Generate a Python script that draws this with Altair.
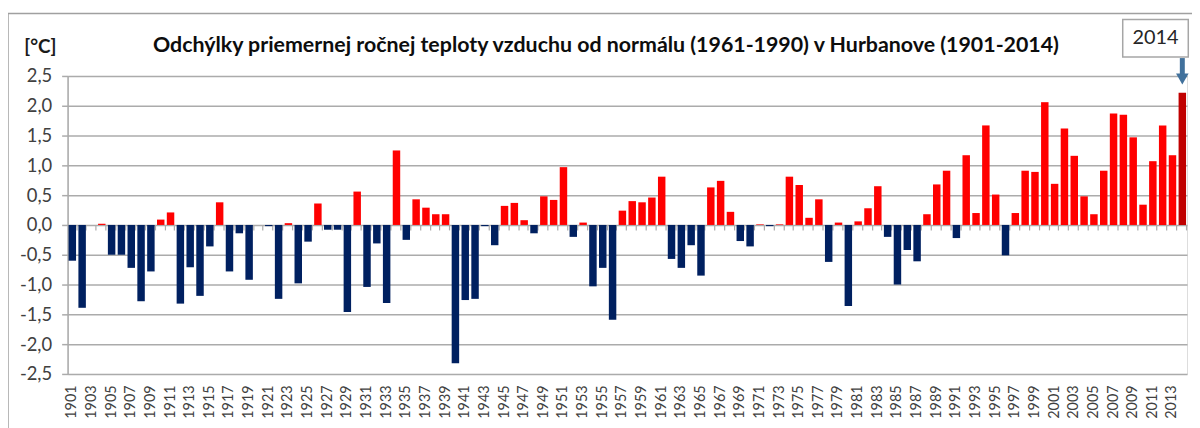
import altair as alt
import pandas as pd

# ---------------- data ----------------
years = list(range(1901, 2015))
anomalies = [
    -0.60, -1.39, 0.00, 0.02, -0.50, -0.50, -0.72, -1.28, -0.78, 0.09,   # 1901-1910
    0.21, -1.32, -0.71, -1.19, -0.36, 0.38, -0.78, -0.14, -0.92, 0.00,   # 1911-1920
    -0.02, -1.24, 0.03, -0.98, -0.28, 0.36, -0.08, -0.08, -1.46, 0.56,   # 1921-1930
    -1.04, -0.31, -1.31, 1.25, -0.25, 0.43, 0.29, 0.18, 0.18, -2.32,     # 1931-1940
    -1.26, -1.24, -0.02, -0.34, 0.32, 0.37, 0.08, -0.14, 0.48, 0.42,     # 1941-1950
    0.97, -0.20, 0.04, -1.03, -0.72, -1.59, 0.24, 0.40, 0.38, 0.46,      # 1951-1960
    0.81, -0.57, -0.72, -0.34, -0.85, 0.63, 0.74, 0.22, -0.27, -0.36,    # 1961-1970
    0.01, -0.02, 0.01, 0.81, 0.67, 0.12, 0.43, -0.62, 0.04, -1.36,       # 1971-1980
    0.06, 0.28, 0.65, -0.20, -1.00, -0.42, -0.61, 0.18, 0.68, 0.91,      # 1981-1990
    -0.22, 1.17, 0.20, 1.67, 0.51, -0.51, 0.20, 0.91, 0.89, 2.06,        # 1991-2000
    0.69, 1.62, 1.16, 0.48, 0.18, 0.91, 1.87, 1.85, 1.47, 0.34,          # 2001-2010
    1.07, 1.67, 1.17, 2.22,                                              # 2011-2014
]
assert len(years) == len(anomalies)

label_years = list(range(1901, 2014, 2))
y_ticks = [-2.5, -2.0, -1.5, -1.0, -0.5, 0.0, 0.5, 1.0, 1.5, 2.0, 2.5]
highlight_year = 2014
highlight_label = ["2014"]

TITLE = "Odchýlky priemernej ročnej teploty vzduchu od normálu (1961-1990) v Hurbanove (1901-2014)"
Y_UNIT = "[°C]"

categories = ["neg", "pos", "last"]
cat_colors = ["#002060", "#FF0000", "#C00000"]

df = pd.DataFrame({"year": years, "value": anomalies})
df["cat"] = [
    "last" if y == highlight_year else ("pos" if v >= 0 else "neg")
    for y, v in zip(years, anomalies)
]
ann = pd.DataFrame({"year": [highlight_year], "label": highlight_label})
one = pd.DataFrame({"k": [0]})

# ---------------- styling ----------------
W, H = 1127, 300
FONT = "Lato"
GRID = "#ABABAB"
x_scale = alt.Scale(paddingInner=0.24, paddingOuter=0.1)
y_scale = alt.Scale(domain=[-2.5, 2.5], nice=False, zero=False)

bars = alt.Chart(df).mark_bar().encode(
    x=alt.X(
        "year:O",
        scale=x_scale,
        axis=alt.Axis(
            values=label_years, labelAngle=-90, labelFont=FONT, labelFontSize=14.5,
            labelColor="#404040", labelPadding=11, ticks=False, domain=False,
            grid=False, title=None,
        ),
    ),
    y=alt.Y(
        "value:Q",
        scale=y_scale,
        axis=alt.Axis(
            values=y_ticks,
            labelExpr="replace(replace(format(datum.value, '.1f'), '.', ','), '\u2212', '-')",
            labelFont=FONT, labelFontSize=18.5, labelColor="#404040", labelPadding=10,
            tickSize=6, tickColor=GRID, tickWidth=1.5,
            domainColor=GRID, domainWidth=1.5,
            grid=True, gridColor=GRID, gridWidth=1.5,
            title=Y_UNIT, titleAngle=0, titleX=-28, titleY=-30,
            titleAlign="center", titleBaseline="middle",
            titleFont=FONT, titleFontSize=19, titleFontWeight="bold", titleColor="#1a1a1a",
        ),
    ),
    color=alt.Color(
        "cat:N", scale=alt.Scale(domain=categories, range=cat_colors), legend=None
    ),
)

zero_ticks = alt.Chart(df).mark_tick(opacity=0).encode(
    x=alt.X(
        "year:O",
        scale=x_scale,
        axis=alt.Axis(
            orient="bottom", offset=-150, labels=False, ticks=True, tickBand="extent",
            tickSize=5, tickColor=GRID, tickWidth=1.2, domain=False, grid=False, title=None,
        ),
    ),
)

title_text = alt.Chart(one).mark_text(
    text=TITLE, font=FONT, fontSize=21.5, fontWeight="bold", color="#0d0d0d",
    align="center", baseline="middle",
).encode(x=alt.value(542), y=alt.value(-30))

frame_top = alt.Chart(one).mark_rule(color="#A0A0A0", strokeWidth=1.5).encode(
    x=alt.value(-60), x2=alt.value(1140), y=alt.value(-63)
)
frame_left = alt.Chart(one).mark_rule(color="#A0A0A0", strokeWidth=1.5).encode(
    x=alt.value(-60), y=alt.value(-63), y2=alt.value(360)
)

box = alt.Chart(ann).mark_point(
    shape="M-1,-0.57L1,-0.57L1,0.57L-1,0.57Z", size=4356, filled=False,
    fill="white", fillOpacity=1, stroke="#A6A6A6", strokeWidth=1.5, opacity=1,
    xOffset=-27,
).encode(x=alt.X("year:O", scale=x_scale, axis=None), y=alt.value(-38))

box_text = alt.Chart(ann).mark_text(
    font=FONT, fontSize=20, color="#262626", dx=-27, align="center", baseline="middle"
).encode(x=alt.X("year:O", scale=x_scale, axis=None), y=alt.value(-38), text="label:N")

shaft = alt.Chart(ann).mark_rule(color="#41719C", strokeWidth=5).encode(
    x=alt.X("year:O", scale=x_scale, axis=None), y=alt.value(-18), y2=alt.value(-2)
)
head = alt.Chart(ann).mark_point(
    shape="triangle-down", filled=True, size=160, color="#41719C", opacity=1
).encode(x=alt.X("year:O", scale=x_scale, axis=None), y=alt.value(3))

chart = (
    alt.layer(frame_top, frame_left, bars, zero_ticks, title_text, box, box_text, shaft, head)
    .resolve_axis(x="independent")
    .properties(
        width=W, height=H,
        autosize=alt.AutoSizeParams(type="none"),
        padding={"left": 60, "top": 67, "right": 5, "bottom": 53},
    )
    .configure_view(strokeWidth=0)
    .configure(background="white")
)

chart.save("out.html", embed_options={"renderer": "svg", "actions": False})
